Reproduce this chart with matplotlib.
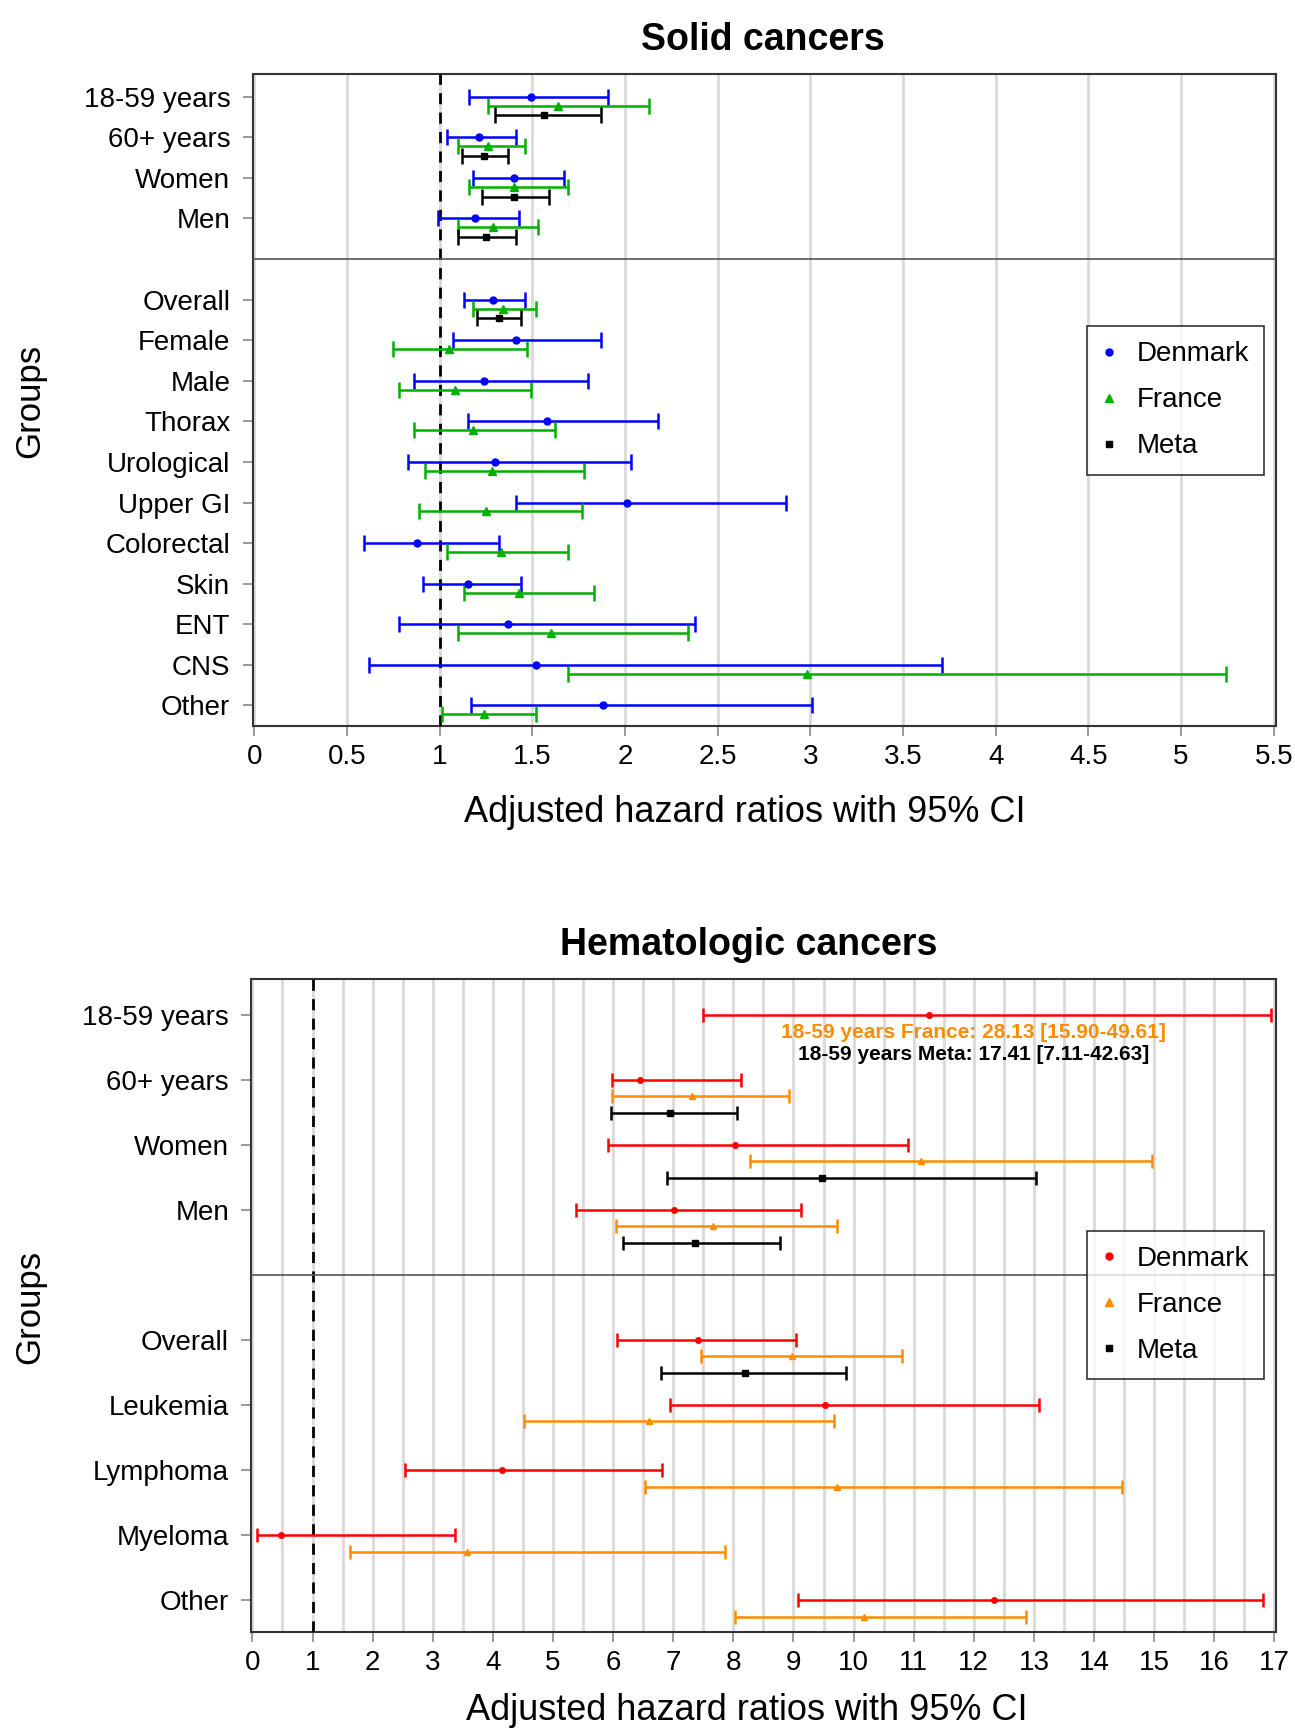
import numpy as np
import matplotlib
matplotlib.use("Agg")
import matplotlib.pyplot as plt
from matplotlib.lines import Line2D

plt.rcParams["font.family"] = ["Liberation Sans", "DejaVu Sans"]

# ================================
# Data: solid cancers
# ================================
solid_groups = ["18-59 years", "60+ years", "Women", "Men", "Overall", "Female",
                "Male", "Thorax", "Urological", "Upper GI", "Colorectal", "Skin",
                "ENT", "CNS", "Other"]
solid_dk = [1.49, 1.21, 1.40, 1.19, 1.29, 1.41, 1.24, 1.58, 1.30, 2.01, 0.88, 1.15, 1.37, 1.52, 1.88]
solid_dk_lo = [1.16, 1.04, 1.18, 0.99, 1.13, 1.07, 0.86, 1.15, 0.83, 1.41, 0.59, 0.91, 0.78, 0.62, 1.17]
solid_dk_hi = [1.91, 1.41, 1.67, 1.43, 1.46, 1.87, 1.80, 2.18, 2.03, 2.87, 1.32, 1.44, 2.38, 3.71, 3.01]
solid_fr = [1.64, 1.26, 1.40, 1.29, 1.34, 1.05, 1.08, 1.18, 1.28, 1.25, 1.33, 1.43, 1.60, 2.98, 1.24]
solid_fr_lo = [1.26, 1.10, 1.16, 1.10, 1.18, 0.75, 0.78, 0.86, 0.92, 0.89, 1.04, 1.13, 1.10, 1.69, 1.01]
solid_fr_hi = [2.13, 1.46, 1.69, 1.53, 1.52, 1.47, 1.49, 1.62, 1.78, 1.77, 1.69, 1.83, 2.34, 5.24, 1.52]
solid_meta = [1.56, 1.24, 1.40, 1.25, 1.32] + [np.nan] * 10
solid_meta_lo = [1.30, 1.12, 1.23, 1.10, 1.20] + [np.nan] * 10
solid_meta_hi = [1.87, 1.37, 1.59, 1.41, 1.44] + [np.nan] * 10

# ================================
# Data: hematologic cancers
# ================================
hema_groups = ["18-59 years", "60+ years", "Women", "Men", "Overall",
               "Leukemia", "Lymphoma", "Myeloma", "Other"]
hema_dk = [11.26, 6.45, 8.03, 7.01, 7.41, 9.52, 4.15, 0.48, 12.34]
hema_dk_lo = [7.50, 5.98, 5.91, 5.38, 6.07, 6.94, 2.53, 0.08, 9.07]
hema_dk_hi = [16.95, 8.13, 10.91, 9.12, 9.05, 13.08, 6.82, 3.37, 16.81]
hema_fr = [np.nan, 7.32, 11.12, 7.66, 8.98, 6.60, 9.72, 3.57, 10.17]
hema_fr_lo = [np.nan, 5.98, 8.28, 6.04, 7.47, 4.52, 6.53, 1.62, 8.03]
hema_fr_hi = [np.nan, 8.92, 14.96, 9.73, 10.80, 9.68, 14.47, 7.86, 12.87]
hema_meta = [np.nan, 6.94, 9.48, 7.36, 8.19, np.nan, np.nan, np.nan, np.nan]
hema_meta_lo = [np.nan, 5.96, 6.89, 6.17, 6.79, np.nan, np.nan, np.nan, np.nan]
hema_meta_hi = [np.nan, 8.06, 13.04, 8.78, 9.88, np.nan, np.nan, np.nan, np.nan]
hema_note_fr = "18-59 years France: 28.13 [15.90-49.61]"
hema_note_meta = "18-59 years Meta: 17.41 [7.11-42.63]"

N_SUBGROUP = 4  # age / sex rows above the divider


def row_positions(n):
    # top rows (subgroups) sit above a one-row gap
    pos = []
    for i in range(n):
        pos.append(n + 1 - i if i < N_SUBGROUP else n - i)
    return np.array(pos, dtype=float)


def draw_series(ax, y, pt, lo, hi, color, marker, ms, capsize):
    pt = np.asarray(pt, float)
    lo = np.asarray(lo, float)
    hi = np.asarray(hi, float)
    ok = ~np.isnan(pt)
    ax.errorbar(pt[ok], y[ok], xerr=[pt[ok] - lo[ok], hi[ok] - pt[ok]],
                fmt=marker, color=color, ecolor=color, ms=ms, elinewidth=1.8,
                capsize=capsize, capthick=1.8, zorder=4)


def style_axes(ax, groups, ypos, xmin, xmax, major, minor):
    ax.set_xlim(xmin, xmax)
    ax.set_xticks(major)
    ax.set_xticks(minor, minor=True)
    ax.grid(True, axis="x", which="both", color="#d9d9d9", lw=2, zorder=0)
    ax.set_yticks(ypos)
    ax.set_yticklabels(groups)
    ax.tick_params(axis="both", which="major", labelsize=20, length=7,
                   width=1.2, color="#888888", pad=6)
    ax.tick_params(axis="y", which="major", pad=9)
    ax.tick_params(axis="x", which="minor", length=0)
    ax.axvline(1, color="black", lw=2, ls=(0, (4, 3)), zorder=3)
    # divider halfway between the last subgroup row and "Overall"
    ax.axhline(ypos[N_SUBGROUP - 1] - 1, color="#555555", lw=1.2, zorder=3)
    for s in ax.spines.values():
        s.set_color("#333333")
        s.set_linewidth(1.5)


def legend(ax, colors):
    handles = [
        Line2D([], [], ls="none", marker="o", color=colors[0], ms=5),
        Line2D([], [], ls="none", marker="^", color=colors[1], ms=6),
        Line2D([], [], ls="none", marker="s", color="black", ms=5),
    ]
    leg = ax.legend(handles, ["Denmark", "France", "Meta"], loc="upper right",
                    bbox_to_anchor=(0.989, 0.614), borderaxespad=0,
                    fontsize=20, frameon=True, fancybox=False,
                    edgecolor="black", handlelength=0.5, handletextpad=0.75,
                    labelspacing=0.72, borderpad=0.55)
    leg.get_frame().set_linewidth(1.2)
    leg.set_zorder(6)


fig = plt.figure(figsize=(12.95, 17.29), dpi=100)

# ---------- Solid cancers ----------
ax1 = fig.add_axes([0.195, 0.580, 0.790, 0.377])
y1 = row_positions(len(solid_groups))
draw_series(ax1, y1, solid_dk, solid_dk_lo, solid_dk_hi, "#0000ff", "o", 5, 5.5)
draw_series(ax1, y1 - 0.22, solid_fr, solid_fr_lo, solid_fr_hi, "#00b000", "^", 6, 5.5)
draw_series(ax1, y1 - 0.46, solid_meta, solid_meta_lo, solid_meta_hi, "black", "s", 5, 5.5)
style_axes(ax1, solid_groups, y1, -0.01, 5.51, np.arange(0, 5.51, 0.5), [])
ax1.set_xticklabels(["0", "0.5", "1", "1.5", "2", "2.5", "3", "3.5", "4",
                     "4.5", "5", "5.5"])
ax1.set_ylim(0.49, 16.55)
legend(ax1, ["#0000ff", "#00b000"])

# ---------- Hematologic cancers ----------
ax2 = fig.add_axes([0.194, 0.056, 0.791, 0.378])
y2 = row_positions(len(hema_groups))
draw_series(ax2, y2, hema_dk, hema_dk_lo, hema_dk_hi, "#ff0000", "o", 4, 5)
draw_series(ax2, y2 - 0.25, hema_fr, hema_fr_lo, hema_fr_hi, "#ff8c00", "^", 5, 5)
draw_series(ax2, y2 - 0.5, hema_meta, hema_meta_lo, hema_meta_hi, "black", "s", 4, 5)
style_axes(ax2, hema_groups, y2, -0.02, 17.02,
           np.arange(0, 18, 1), np.arange(0.5, 17, 1.0))
ax2.set_ylim(0.51, 10.56)
ax2.text(12.0, y2[0] - 0.27, hema_note_fr, color="#ff8c00", fontsize=15,
         fontweight="bold", ha="center", va="center")
ax2.text(12.0, y2[0] - 0.61, hema_note_meta, color="black", fontsize=15,
         fontweight="bold", ha="center", va="center")
legend(ax2, ["#ff0000", "#ff8c00"])

# ---------- titles and labels ----------
fig.text(0.589, 0.977, "Solid cancers", fontsize=27, fontweight="bold",
         ha="center", va="center")
fig.text(0.578, 0.4537, "Hematologic cancers", fontsize=27, fontweight="bold",
         ha="center", va="center")
fig.text(0.575, 0.530, "Adjusted hazard ratios with 95% CI", fontsize=26,
         ha="center", va="center")
fig.text(0.577, 0.0105, "Adjusted hazard ratios with 95% CI", fontsize=26,
         ha="center", va="center")
fig.text(0.023, 0.768, "Groups", fontsize=25, rotation=90, ha="center", va="center")
fig.text(0.023, 0.244, "Groups", fontsize=25, rotation=90, ha="center", va="center")

fig.savefig("out.png", dpi=100)
